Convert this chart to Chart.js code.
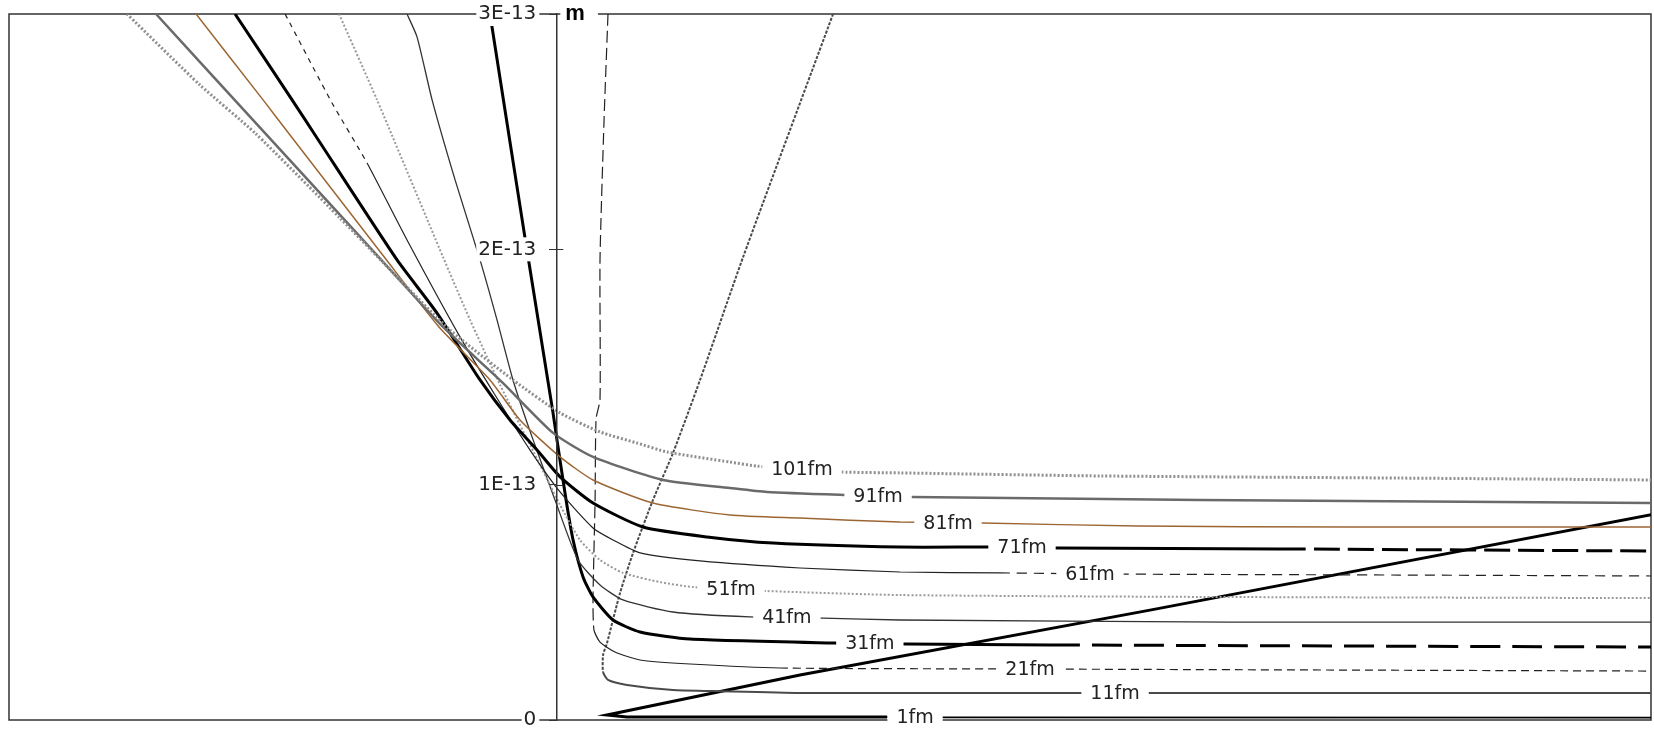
<!DOCTYPE html>
<html><head><meta charset="utf-8">
<script src="https://cdn.jsdelivr.net/npm/chart.js@4.4.1/dist/chart.umd.min.js"></script>
<style>html,body{margin:0;padding:0;background:#fff;}#wrap{width:1654px;height:730px;}</style>
</head><body><div id="wrap"><canvas id="c" width="1654" height="730"></canvas></div>
<script>
// Values: x in arbitrary units (no x labels in the original), y in femtometres (1 fm = 1E-15 m)
const curveNames = ['101fm','91fm','81fm','71fm','61fm','51fm','41fm','31fm','21fm','11fm','1fm'];

const fm101 = [[-3.922,300.0],[-3.255,269.8],[-2.752,249.4],[-1.976,213.3],[-1.428,187.0],[-0.971,165.7],[-0.396,144.5],[0.034,130.5],[0.399,122.4],[0.737,117.7],[1.011,113.9],[1.587,109.6],[1.833,107.9],[2.592,105.4],[3.140,105.0],[4.967,103.7],[7.707,102.8],[10.0,102.0]];
const fm91 = [[-3.657,300.0],[-2.661,249.4],[-1.656,198.4],[-1.035,167.0],[-0.496,143.6],[-0.030,122.0],[0.335,111.8],[0.975,102.0],[1.587,98.6],[1.925,96.9],[2.656,95.6],[3.249,94.8],[5.880,93.5],[8.621,92.6],[10.0,92.2]];
const fm81 = [[-3.291,300.0],[-2.679,263.5],[-2.433,248.6],[-1.565,196.3],[-1.072,167.0],[-0.606,144.5],[-0.332,127.5],[0.034,111.8],[0.335,102.0],[0.883,92.2],[1.587,87.1],[2.226,85.8],[3.140,84.1],[3.889,83.7],[5.314,82.4],[7.250,82.0],[10.0,82.0]];
const fm71 = [[-2.935,300.0],[-2.414,263.5],[-2.204,248.6],[-1.455,195.5],[-1.090,172.9],[-0.697,144.5],[-0.423,127.5],[-0.176,114.7],[0.034,103.3],[0.335,92.2],[0.792,82.0],[1.377,77.8],[1.980,75.2],[3.140,73.5],[3.989,73.5],[4.592,73.1],[6.611,72.7],[10.0,71.8]];
const fm61 = [[-2.478,300.0],[-2.049,262.2],[-1.729,236.7],[-1.364,204.0],[-0.880,162.8],[-0.560,138.1],[-0.240,114.7],[0.034,96.9],[0.335,81.6],[0.518,76.5],[0.765,71.0],[1.313,67.6],[2.226,64.6],[3.140,62.9],[4.053,62.5],[5.149,62.0],[7.707,61.6],[10.0,61.2]];
const fm51 = [[-1.985,300.0],[-1.638,263.5],[-1.035,196.7],[-0.788,170.0],[-0.514,142.4],[-0.240,116.9],[0.034,91.4],[0.216,76.5],[0.399,68.0],[0.609,62.5],[0.947,58.6],[1.249,56.5],[1.925,54.8],[3.140,53.1],[5.880,52.3],[10.0,51.8]];
const fm41 = [[-1.364,300.0],[-1.272,290.2],[-1.135,263.5],[-0.925,229.5],[-0.697,195.5],[-0.542,170.0],[-0.396,144.5],[-0.222,120.3],[-0.012,93.5],[0.198,68.0],[0.399,57.4],[0.609,51.0],[1.066,45.9],[1.769,43.8],[2.436,43.3],[3.140,42.5],[6.154,41.6],[10.0,41.6]];
const fm31 = [[-0.606,300.0],[-0.286,204.8],[-0.030,130.5],[0.006,119.0],[0.089,93.5],[0.153,76.5],[0.244,60.8],[0.335,52.3],[0.518,42.5],[0.765,37.4],[1.221,34.4],[2.528,32.7],[3.194,32.3],[4.510,31.9],[10.0,31.0]];
const fm21 = [[0.472,300.0],[0.436,255.0],[0.399,195.5],[0.399,136.0],[0.363,128.0],[0.354,93.5],[0.335,51.0],[0.344,38.2],[0.399,33.1],[0.536,28.9],[0.765,25.5],[1.221,23.8],[2.043,22.1],[4.053,21.7],[10.0,20.8]];
const fm11 = [[2.528,300.0],[1.706,196.7],[1.313,144.5],[1.066,113.5],[0.883,93.5],[0.701,71.0],[0.582,54.0],[0.463,32.7],[0.427,27.6],[0.427,20.4],[0.472,17.0],[0.646,14.9],[1.066,12.7],[1.431,12.3],[2.226,11.5],[4.967,11.5],[10.0,11.5]];
const fm1 = [[10.028,87.5],[5.423,46.7],[2.226,19.1],[0.463,2.1],[0.646,1.3],[3.021,1.3],[3.505,1.1],[10.0,1.0]];

const yTicks = [0, 100, 200, 300];
const yTickLabels = ['0', '1E-13', '2E-13', '3E-13'];
const axisUnit = 'm';

// ---- presentation (not data) ----
const series = [fm101, fm91, fm81, fm71, fm61, fm51, fm41, fm31, fm21, fm11, fm1];
const styles = [
  {color:'#8f8f8f', width:3,   dash:[2,2]},
  {color:'#6a6a6a', width:2.5, dash:[]},
  {color:'#9c6633', width:1.5, dash:[]},
  {color:'#000000', width:3,   dash:[]},
  {color:'#222222', width:1.2, dash:[]},
  {color:'#9a9a9a', width:2,   dash:[2,2]},
  {color:'#333333', width:1.3, dash:[]},
  {color:'#000000', width:3,   dash:[]},
  {color:'#222222', width:1.2, dash:[]},
  {color:'#4a4a4a', width:2,   dash:[]},
  {color:'#000000', width:3,   dash:[]}
];
const dashRules = {
  '71fm': p => p.x >= 6.6 ? [26,8] : undefined,
  '61fm': p => p.y >= 240 ? [5,5] : (p.x >= 3.4 ? [10,7] : undefined),
  '31fm': p => p.x >= 4.5 ? [30,12] : undefined,
  '21fm': p => p.y >= 40 ? [12,5] : (p.x >= 2.0 ? [8,5] : undefined),
  '11fm': p => p.y >= 25 ? [3,1.5] : undefined
};
const widthRules = {
  '1fm': p => (p.x >= 3.0 && p.y < 5) ? 1.6 : undefined
};
const labelAtX = [2.244, 2.939, 3.578, 4.254, 4.875, 1.596, 2.106, 2.864, 4.327, 5.104, 3.277];
const TICK_GAP = '\u2002\u2002';

function yOnFlat(pts, xv) {
  for (let k = pts.length - 1; k > 0; k--) {
    const [x0, y0] = pts[k-1], [x1, y1] = pts[k];
    if (x1 !== x0 && (xv - x0) * (xv - x1) <= 0) return y0 + (y1 - y0) * (xv - x0) / (x1 - x0);
  }
  return pts[pts.length-1][1];
}

const datasets = series.map((pts, i) => {
  const name = curveNames[i];
  const st = styles[i];
  const ds = {
    label: name,
    data: pts.map(p => ({x: p[0], y: p[1]})),
    showLine: true,
    borderColor: st.color,
    borderWidth: st.width,
    borderDash: st.dash,
    pointRadius: 0,
    pointHoverRadius: 0,
    tension: name === '1fm' ? 0 : 0.2,
    fill: false
  };
  const seg = {};
  if (dashRules[name]) seg.borderDash = ctx => dashRules[name]({x: ctx.p0.parsed.x, y: ctx.p0.parsed.y});
  if (widthRules[name]) seg.borderWidth = ctx => widthRules[name]({x: ctx.p0.parsed.x, y: ctx.p0.parsed.y});
  if (Object.keys(seg).length) ds.segment = seg;
  return ds;
});

const framePlugin = {
  id: 'frame',
  beforeDatasetsDraw(chart) {
    const {ctx, chartArea: a} = chart;
    ctx.save();
    ctx.strokeStyle = '#333';
    ctx.lineWidth = 1.5;
    ctx.strokeRect(a.left, a.top, a.right - a.left, a.bottom - a.top);
    ctx.restore();
  },
  afterDatasetsDraw(chart) {
    const {ctx, scales: {x, y}} = chart;
    ctx.save();
    ctx.font = '19px "DejaVu Sans"';
    ctx.textBaseline = 'middle';
    ctx.textAlign = 'center';
    series.forEach((pts, i) => {
      const lx = labelAtX[i];
      const ly = yOnFlat(pts, lx);
      const px = x.getPixelForValue(lx), py = y.getPixelForValue(ly);
      const w = ctx.measureText(curveNames[i]).width;
      ctx.fillStyle = '#fff';
      ctx.fillRect(px - w/2 - 9, py - 8, w + 18, 16);
      ctx.fillStyle = '#222';
      ctx.fillText(curveNames[i], px, py + 1);
    });
    ctx.restore();
  },
  afterDraw(chart) {
    const {ctx, scales: {x, y}} = chart;
    const ax = x.getPixelForValue(0);
    ctx.save();
    ctx.strokeStyle = '#333';
    ctx.lineWidth = 1;
    [100, 200].forEach(v => {
      const py = Math.round(y.getPixelForValue(v)) + 0.5;
      ctx.beginPath(); ctx.moveTo(ax, py); ctx.lineTo(ax + 7, py); ctx.stroke();
    });
    ctx.font = 'bold 22px "Liberation Sans"';
    const w = ctx.measureText(axisUnit).width;
    const ty = y.getPixelForValue(300);
    ctx.fillStyle = '#fff';
    ctx.fillRect(ax + 4, ty - 8, w + 18, 14);
    ctx.fillStyle = '#000';
    ctx.textBaseline = 'middle';
    ctx.textAlign = 'left';
    ctx.fillText(axisUnit, ax + 9, ty);
    ctx.restore();
  }
};

new Chart(document.getElementById('c'), {
  type: 'scatter',
  data: { datasets },
  options: {
    responsive: false,
    animation: false,
    devicePixelRatio: 1,
    layout: { padding: {left: 9, top: 14, right: 3, bottom: 10} },
    plugins: { legend: {display: false}, tooltip: {enabled: false} },
    scales: {
      x: { type: 'linear', display: false, min: -5, max: 10 },
      y: {
        type: 'linear',
        min: 0, max: 300,
        position: {x: 0},
        afterBuildTicks: s => { s.ticks = yTicks.map(v => ({value: v})); },
        afterFit: s => { s.paddingTop = 0; s.paddingBottom = 0; s.paddingLeft = 0; s.paddingRight = 0; },
        grid: { drawOnChartArea: false, drawTicks: true, tickLength: 7, color: '#333', z: 2 },
        border: { display: true, color: '#333', width: 1.5, z: 2 },
        ticks: {
          z: 1,
          padding: 0,
          color: '#222',
          font: { family: 'DejaVu Sans', size: 20 },
          showLabelBackdrop: true,
          backdropColor: '#ffffff',
          backdropPadding: {left: 2, right: -17, top: 0, bottom: 0},
          callback: v => yTickLabels[yTicks.indexOf(v)] + TICK_GAP
        }
      }
    }
  },
  plugins: [framePlugin]
});
</script>
</body></html>
